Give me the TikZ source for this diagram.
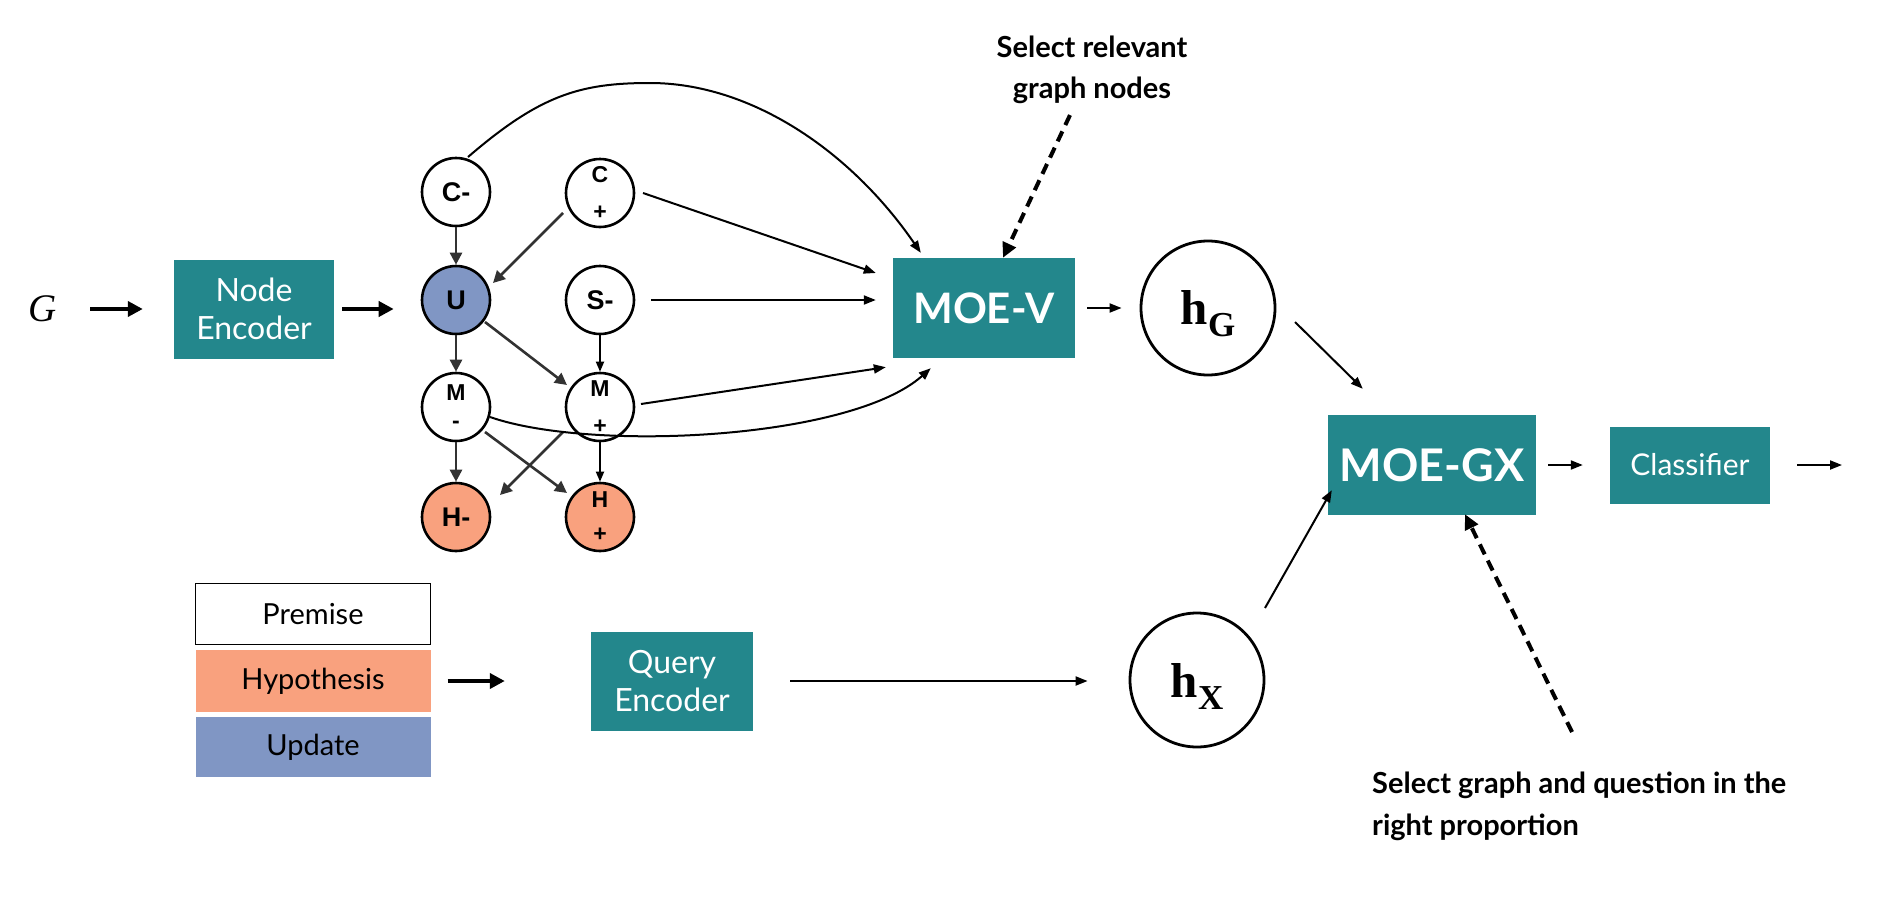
\documentclass[tikz,border=0pt]{standalone}
\usepackage{fontspec}
\setmainfont{Lato}
\newfontfamily\arialf{Liberation Sans}
\newfontfamily\timesf{Liberation Serif}
\usetikzlibrary{arrows.meta,calc}
\definecolor{tealbox}{RGB}{35,135,140}
\definecolor{salmonc}{RGB}{249,161,126}
\definecolor{slatec}{RGB}{128,150,196}
\definecolor{dgray}{RGB}{50,50,50}
\begin{document}
\begin{tikzpicture}[x=1pt,y=-1pt,
  box/.style={fill=tealbox, text=white, inner sep=0pt, align=center},
  gnode/.style={circle, draw=black, fill=white, line width=2.6pt, minimum size=68pt, inner sep=0pt, align=center, font=\arialf\bfseries\fontsize{23}{26}\selectfont},
  gone/.style={gnode, font=\arialf\bfseries\fontsize{27}{27}\selectfont},
  bigc/.style={circle, draw=black, line width=2.8pt, minimum size=134pt, inner sep=0pt},
  thinarr/.style={line width=2pt, -{Triangle[length=12pt,width=9pt]}},
  thickarr/.style={line width=4.5pt, -{Triangle[length=15pt,width=15pt]}},
  grayarr/.style={draw=dgray, line width=2.6pt, -{Triangle[length=12pt,width=12pt]}},
  smallarr/.style={line width=1.8pt, -{Triangle[length=10pt,width=8pt]}},
  dasharr/.style={line width=4pt, dash pattern=on 11pt off 7pt, -{Triangle[length=15pt,width=14pt]}},
  legend/.style={minimum width=235pt, inner sep=0pt, font=\fontsize{29}{29}\selectfont},
]
\useasboundingbox (0,0) rectangle (1882,897);

% input
\node[inner sep=0pt, font=\timesf\itshape\fontsize{39}{39}\selectfont] (G) at (43,309) {G};
\node[box, minimum width=160pt, minimum height=99pt, font=\fontsize{32}{38}\selectfont] (enc) at (254,309) {Node\\Encoder};

% graph nodes
\node[gone] (Cm) at (456,192) {C-};
\node[gnode] (Cp) at (600,193) {C\\[11pt]+};
\node[gone, fill=slatec] (U) at (456,300) {U};
\node[gone] (Sm) at (600,300) {S-};
\node[gnode] (Mm) at (456,407) {M\\[2pt]-};
\node[gnode] (Mp) at (600,407) {M\\[11pt]+};
\node[gone, fill=salmonc] (Hm) at (456,517) {H-};
\node[gnode, fill=salmonc] (Hp) at (600,517) {H\\[8pt]+};

% MOE-V and hG
\node[box, minimum width=182pt, minimum height=100pt, font=\bfseries\fontsize{42}{42}\selectfont] (moev) at (984,308) {MOE-V};
\node[bigc] (hG) at (1208,308) {};
\node[inner sep=0pt, font=\timesf\bfseries\fontsize{49}{49}\selectfont] (hGl) at (1208,314) {h\raisebox{-12pt}{\fontsize{35}{35}\selectfont G}};

% MOE-GX, classifier
\node[box, minimum width=208pt, minimum height=100pt, font=\bfseries\fontsize{45}{45}\selectfont] (moegx) at (1432,465) {MOE-GX};
\node[box, minimum width=160pt, minimum height=77pt, font=\fontsize{30}{30}\selectfont] (cls) at (1690,465) {Classifier};
\coordinate (out) at (1842,465);

% query side
\node[legend, draw=black, line width=1.4pt, minimum height=61pt] (prem) at (313,614) {Premise};
\node[legend, fill=salmonc, minimum height=62pt] (hyp) at (313,681) {Hypothesis};
\node[legend, fill=slatec, minimum height=60pt] (upd) at (313,747) {Update};
\node[box, minimum width=162pt, minimum height=99pt, font=\fontsize{32}{38}\selectfont] (qenc) at (672,681) {Query\\Encoder};
\node[bigc] (hX) at (1197,680) {};
\node[inner sep=0pt, font=\timesf\bfseries\fontsize{49}{49}\selectfont] (hXl) at (1197,686) {h\raisebox{-12pt}{\fontsize{35}{35}\selectfont X}};

% annotations
\node[align=center, inner sep=0pt, font=\bfseries\fontsize{29}{41}\selectfont] (sel1) at (1092,70) {Select relevant\\graph nodes};
\node[align=left, anchor=north west, inner sep=0pt, font=\bfseries\fontsize{29}{42}\selectfont] (sel2) at (1372,772) {Select graph and question in the\\right proportion};

% main flow arrows
\draw[thickarr, shorten <=33pt, shorten >=31pt] (G.east) -- (G.east -| enc.west);
\draw[thickarr, shorten <=8pt, shorten >=27pt] (enc.east) -- (enc.east -| U.west);
\draw[thinarr, shorten <=12pt, shorten >=18pt] (moev.east) -- (hG.west);
\draw[thinarr] ($(hG)+(87,14)$) -- ($(moegx.north west)+(35,-26)$);
\draw[thinarr] ($(hX)+(68,-72)$) -- ($(moegx.south west)+(4,-25)$);
\draw[thinarr, shorten <=12pt, shorten >=27pt] (moegx.east) -- (moegx.east -| cls.west);
\draw[thinarr, shorten <=27pt] (cls.east) -- (out);
\draw[thickarr, shorten <=17pt, shorten >=86pt] (hyp.east) -- (hyp.east -| qenc.west);
\draw[thinarr, shorten <=37pt, shorten >=41pt] (qenc.east) -- (qenc.east -| hX.west);
\draw[dasharr] ($(sel1.south)+(-22,11)$) -- ($(moev.north)+(19,0)$);
\draw[dasharr] ($(sel2.north west)+(200,-40)$) -- ($(moegx.south)+(33,-1)$);

% graph internal edges
\draw[grayarr] (Cm.south) -- (U.north);
\draw[grayarr] ($(Cp)+(-37,20)$) -- ($(U)+(37,-17)$);
\draw[grayarr] (U.south) -- (Mm.north);
\draw[grayarr] ($(U)+(29,22)$) -- ($(Mp)+(-33,-22)$);
\draw[grayarr] (Mm.south) -- (Hm.north);
\draw[grayarr] ($(Mm)+(29,25)$) -- ($(Hp)+(-33,-24)$);
\draw[grayarr] ($(Mp)+(-37,25)$) -- ($(Hm)+(44,-22)$);
\draw[smallarr] (Sm.south) -- (Mp.north);
\draw[smallarr] (Mp.south) -- (Hp.north);

% edges into MOE-V
\draw[thinarr] ($(Cp)+(43,0)$) -- ($(moev.west)+(-17,-35)$);
\draw[thinarr] ($(Sm)+(51,0)$) -- ($(moev.west)+(-17,-8)$);
\draw[thinarr] ($(Mp)+(41,-3)$) -- ($(moev.south west)+(-7,9)$);
\draw[thinarr] ($(Mm)+(34,10)$) .. controls (590,452) and (850,440) .. ($(moev.south west)+(38,10)$);
\draw[thinarr] ($(Cm)+(12,-35)$) .. controls (540,95) and (580,83) .. (650,83) .. controls (750,83) and (850,150) .. ($(moev.north west)+(28,-5)$);
\end{tikzpicture}
\end{document}
